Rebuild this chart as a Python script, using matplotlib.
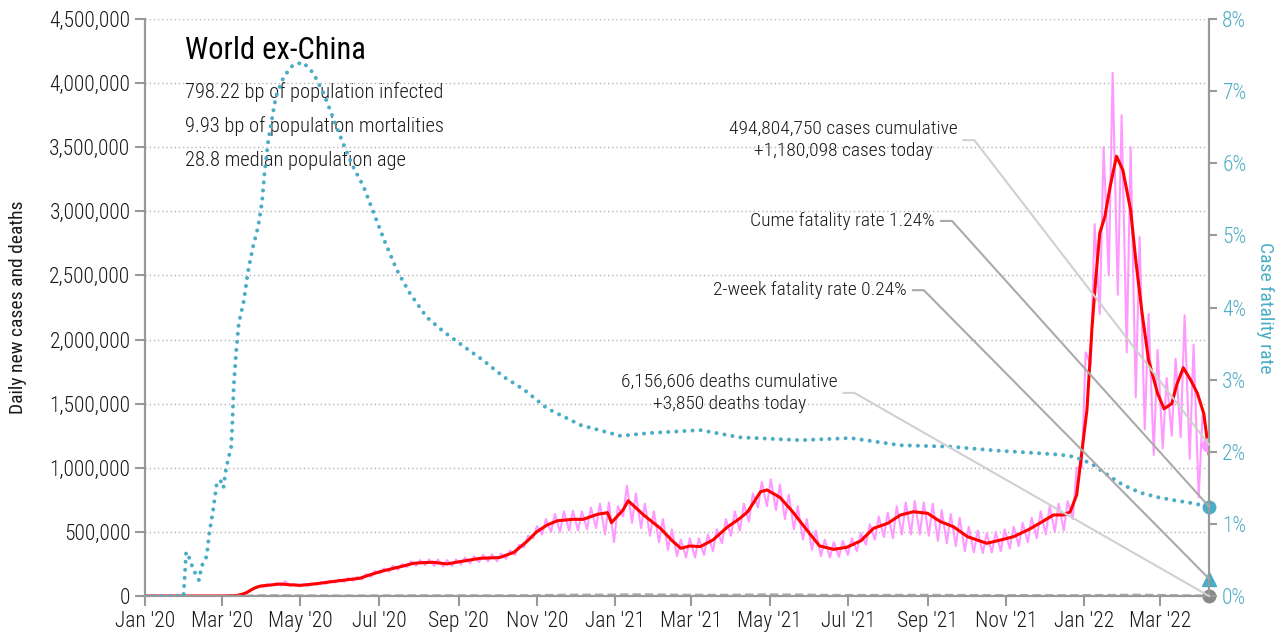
import numpy as np
import pandas as pd
import matplotlib
matplotlib.use("Agg")
import matplotlib.pyplot as plt
from matplotlib.lines import Line2D
from matplotlib.transforms import IdentityTransform
from matplotlib.ticker import FuncFormatter, MultipleLocator
import matplotlib.dates as mdates

plt.rcParams['font.family'] = ['Roboto Condensed', 'DejaVu Sans']
plt.rcParams['font.weight'] = 300

start = pd.Timestamp("2020-01-01")
end_day = 828  # 8 Apr 2022

# 7-day average of new cases: day offset from 1 Jan 2020, cases
avg_day = [0, 63, 69, 72, 76, 79, 83, 86, 90, 97, 105, 112, 121, 128, 136, 144, 152, 160,
           167, 175, 183, 191, 199, 209, 216, 224, 235, 245, 261, 276, 287, 297, 305, 313,
           321, 333, 341, 352, 360, 363, 372, 376, 388, 401, 411, 417, 424, 432, 442, 453,
           463, 469, 479, 484, 494, 504, 515, 525, 536, 546, 557, 567, 578, 588, 598, 609,
           619, 629, 640, 655, 666, 676, 687, 697, 707, 715, 720, 725, 729, 733, 737, 740,
           743, 747, 751, 756, 761, 767, 771, 776, 781, 788, 793, 799, 803, 808, 814, 819,
           824, 828]
avg_cases = [0, 0, 2000, 5000, 15000, 26000, 50000, 65000, 78000, 85000, 94000, 88000,
             83000, 90000, 99000, 110000, 120000, 130000, 138000, 165000, 190000, 210000,
             229000, 255000, 260000, 263000, 250000, 268000, 294000, 300000, 340000, 424000,
             502000, 554000, 587000, 598000, 598000, 637000, 650000, 572000, 671000, 743000,
             632000, 528000, 424000, 372000, 390000, 385000, 437000, 536000, 606000, 657000,
             813000, 827000, 770000, 657000, 515000, 390000, 364000, 380000, 430000, 528000,
             567000, 632000, 657000, 645000, 580000, 541000, 463000, 411000, 437000, 463000,
             515000, 572000, 632000, 632000, 657000, 788000, 1120000, 1450000, 2100000,
             2490000, 2830000, 2960000, 3190000, 3430000, 3320000, 3010000, 2620000, 2200000,
             1840000, 1580000, 1460000, 1500000, 1650000, 1780000, 1680000, 1580000, 1420000,
             1110000]

# raw daily new cases, weekly low and high (week k starts on day 7k)
raw_lo = [0, 0, 0, 0, 0, 0, 0, 0, 1000, 2000, 5000, 25000, 60000, 72000, 82000, 80000,
          78000, 75000, 80000, 88000, 95000, 105000, 110000, 118000, 130000, 150000, 175000,
          190000, 205000, 225000, 235000, 240000, 235000, 230000, 235000, 245000, 255000,
          265000, 270000, 270000, 290000, 320000, 380000, 450000, 480000, 500000, 500000,
          510000, 510000, 520000, 530000, 480000, 420000, 620000, 570000, 530000, 470000,
          420000, 360000, 310000, 300000, 300000, 320000, 350000, 410000, 470000, 510000,
          580000, 690000, 700000, 670000, 600000, 520000, 440000, 360000, 310000, 300000,
          305000, 320000, 350000, 400000, 440000, 460000, 450000, 480000, 480000, 480000,
          470000, 430000, 410000, 390000, 350000, 340000, 335000, 340000, 350000, 370000,
          390000, 420000, 450000, 480000, 500000, 510000, 600000, 1000000, 1800000,
          2200000, 2500000, 2350000, 1900000, 1550000, 1300000, 1100000, 1150000, 1250000,
          1240000, 1070000, 770000]
raw_hi = [0, 0, 0, 0, 0, 0, 0, 0, 2000, 4000, 10000, 38000, 78000, 92000, 100000, 115000,
          95000, 92000, 98000, 108000, 120000, 130000, 140000, 150000, 170000, 195000,
          215000, 235000, 250000, 270000, 280000, 285000, 285000, 280000, 285000, 300000,
          310000, 320000, 325000, 330000, 355000, 400000, 470000, 545000, 600000, 640000,
          660000, 665000, 660000, 690000, 720000, 730000, 700000, 860000, 800000, 720000,
          660000, 600000, 520000, 440000, 450000, 450000, 480000, 520000, 600000, 660000,
          720000, 800000, 890000, 910000, 870000, 790000, 700000, 600000, 510000, 440000,
          420000, 430000, 450000, 490000, 560000, 620000, 650000, 700000, 730000, 740000,
          730000, 720000, 670000, 640000, 610000, 540000, 510000, 490000, 500000, 520000,
          540000, 570000, 610000, 660000, 700000, 720000, 740000, 1000000, 1900000,
          2900000, 3500000, 4080000, 3750000, 3500000, 2800000, 2200000, 1920000, 1700000,
          1850000, 2190000, 1960000, 1420000]
cases_today = 1180098

# cumulative case fatality rate (%), right axis
cfr_day = [0, 30, 31, 32, 34, 36, 38, 40, 42, 44, 46, 48, 50, 53, 55, 56, 59, 61, 63, 65,
           67, 68, 69, 71, 73, 77, 80, 84, 88, 91, 93, 96, 100, 102, 108, 115, 123, 131,
           139, 147, 154, 162, 170, 178, 186, 196, 206, 219, 232, 248, 263, 279, 295, 313,
           339, 370, 393, 432, 463, 510, 549, 588, 627, 660, 712, 723, 736, 749, 761, 775,
           788, 800, 814, 828]
cfr_pct = [0, 0, 0.3, 0.61, 0.55, 0.45, 0.35, 0.29, 0.22, 0.41, 0.48, 0.55, 0.87, 1.19,
           1.45, 1.59, 1.59, 1.50, 1.75, 1.92, 2.05, 2.40, 2.90, 3.40, 3.78, 4.10, 4.48,
           4.84, 5.12, 5.45, 5.86, 6.32, 6.74, 6.93, 7.20, 7.36, 7.40, 7.25, 6.97, 6.60,
           6.28, 5.95, 5.68, 5.31, 4.94, 4.52, 4.20, 3.87, 3.67, 3.46, 3.27, 3.04, 2.86,
           2.60, 2.37, 2.22, 2.26, 2.30, 2.20, 2.16, 2.19, 2.09, 2.07, 2.02, 1.96, 1.93,
           1.84, 1.68, 1.54, 1.43, 1.37, 1.33, 1.29, 1.24]
cfr_2wk = 0.24

# daily deaths
death_day = [0, 60, 75, 90, 105, 120, 150, 180, 210, 240, 270, 300, 330, 360, 385, 420,
             450, 480, 510, 540, 570, 600, 630, 660, 690, 720, 750, 770, 790, 810, 828]
deaths = [0, 0, 2000, 5500, 6500, 5000, 4000, 4800, 5800, 5600, 5200, 6500, 10500, 11000,
          13500, 10000, 9500, 13000, 11500, 8000, 8500, 10000, 8500, 7000, 7000, 6500, 8500,
          10500, 8500, 5500, 3850]

title = "World ex-China"
stats = ["798.22 bp of population infected",
         "9.93 bp of population mortalities",
         "28.8 median population age"]
note_cases = "494,804,750 cases cumulative\n+1,180,098 cases today"
note_cume = "Cume fatality rate 1.24%"
note_2wk = "2-week fatality rate 0.24%"
note_deaths = "6,156,606 deaths cumulative\n+3,850 deaths today"

TEAL = '#4bacc6'
PINK = '#ff99ff'
GREY = '#999999'
INK = '#1a1a1a'


def to_dates(days):
    return start + pd.to_timedelta(np.asarray(days), unit='D')


raw_day = []
raw_val = []
for k in range(len(raw_lo)):
    raw_day += [7 * k + 1, 7 * k + 4]
    raw_val += [raw_lo[k], raw_hi[k]]
raw_day.append(end_day)
raw_val.append(cases_today)

fig = plt.figure(figsize=(12.84, 6.33), dpi=100)
ax = fig.add_axes([145 / 1284, 1 - 596 / 633, (1209 - 145) / 1284, (596 - 19) / 633])
ax2 = ax.twinx()

ax.plot(to_dates(raw_day), raw_val, color=PINK, lw=1.5, zorder=2)
ax.plot(to_dates(avg_day), avg_cases, color='red', lw=2.2, zorder=3)
ax.plot(to_dates(death_day), deaths, color='#aaaaaa', lw=1.5, ls=(0, (4, 2)), zorder=3)
ax.plot(to_dates([end_day]), [cases_today], 'o', color=PINK, ms=10, zorder=5)
ax.plot(to_dates([end_day]), [deaths[-1]], 'o', color='#888888', ms=9, zorder=5,
        clip_on=False)

ax2.plot(to_dates(cfr_day), cfr_pct, color=TEAL, lw=2.9, ls=(0, (0.01, 2.0)),
         dash_capstyle='round', zorder=4)
ax2.plot(to_dates([end_day]), [cfr_pct[-1]], 'o', color=TEAL, ms=9, clip_on=False)
ax2.plot(to_dates([end_day]), [cfr_2wk], '^', color=TEAL, ms=10, clip_on=False)

ax.set_xlim(start, start + pd.Timedelta(days=end_day))
ax.set_ylim(0, 4500000)
ax2.set_ylim(0, 8)
ax.yaxis.set_major_locator(MultipleLocator(500000))
ax.yaxis.set_major_formatter(FuncFormatter(lambda v, p: f"{int(v):,}"))
ax2.yaxis.set_major_locator(MultipleLocator(1))
ax2.yaxis.set_major_formatter(FuncFormatter(lambda v, p: f"{int(round(v))}%"))
ax.xaxis.set_major_locator(mdates.MonthLocator(bymonth=[1, 3, 5, 7, 9, 11]))
ax.xaxis.set_major_formatter(mdates.DateFormatter("%b '%y"))

ax.yaxis.grid(True, ls=(0, (1, 2)), color='#b5b5b5', lw=1)
ax.set_axisbelow(True)
for a in (ax, ax2):
    a.spines['top'].set_visible(False)
    for s in ('left', 'right', 'bottom'):
        a.spines[s].set_color(GREY)
        a.spines[s].set_linewidth(1.5)
ax.tick_params(axis='both', colors=GREY, labelcolor=INK, labelsize=15.5, length=7,
               width=1.5)
ax2.tick_params(axis='y', colors=GREY, labelcolor=TEAL, labelsize=15.5, length=6, width=1.5)

ax.set_ylabel("Daily new cases and deaths", fontsize=14, color=INK, labelpad=16)
ax2.set_ylabel("Case fatality rate", fontsize=14, color=TEAL, rotation=270, labelpad=20)

ax.text(0.0376, 0.946, title, transform=ax.transAxes, fontsize=22, va='center',
        color='black', fontweight='normal')
for i, line in enumerate(stats):
    ax.text(0.0376, 0.873 - 0.0588 * i, line, transform=ax.transAxes, fontsize=14.8,
            va='center', color=INK)

t_cases = ax.text(0.656, 0.790, note_cases, transform=ax.transAxes, fontsize=14,
                  ha='center', va='center', linespacing=1.3, color=INK)
t_cume = ax.text(0.7425, 0.650, note_cume, transform=ax.transAxes, fontsize=14,
                 ha='right', va='center', color=INK)
t_2wk = ax.text(0.716, 0.530, note_2wk, transform=ax.transAxes, fontsize=14,
                ha='right', va='center', color=INK)
t_deaths = ax.text(0.549, 0.352, note_deaths, transform=ax.transAxes, fontsize=14,
                   ha='center', va='center', linespacing=1.3, color=INK)

fig.canvas.draw()


def connect(txt, axis, value, color):
    bb = txt.get_window_extent()
    x0 = bb.x1 + 6
    y0 = (bb.y0 + bb.y1) / 2
    x1, y1 = axis.transData.transform((mdates.date2num(start + pd.Timedelta(days=end_day)),
                                       value))
    fig.add_artist(Line2D([x0, x0 + 11, x1], [y0, y0, y1], transform=IdentityTransform(),
                          color=color, lw=1.5, zorder=10))


connect(t_cases, ax, cases_today, '#d0d0d0')
connect(t_cume, ax2, cfr_pct[-1], '#aaaaaa')
connect(t_2wk, ax2, cfr_2wk, '#aaaaaa')
connect(t_deaths, ax, 0, '#d0d0d0')

fig.savefig("out.png", dpi=100)
